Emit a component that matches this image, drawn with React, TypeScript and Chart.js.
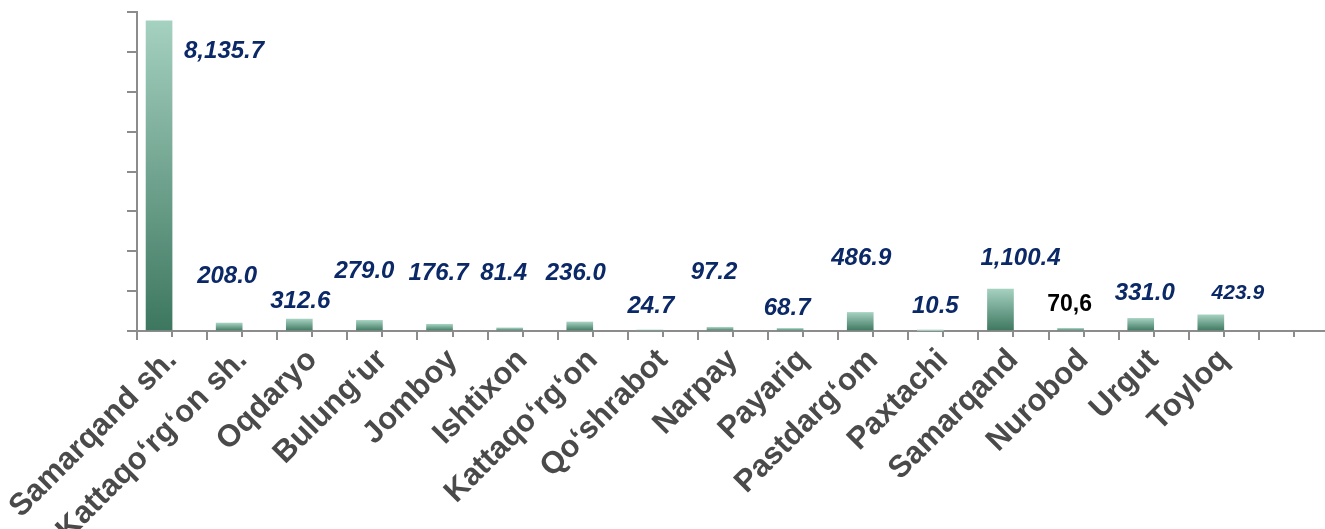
import React, { useEffect, useRef } from "react";
import { Chart, registerables } from "chart.js";

Chart.register(...registerables);

// ---- data ----
const categories: string[] = [
  "Samarqand sh.",
  "Kattaqo‘rg‘on sh.",
  "Oqdaryo",
  "Bulung‘ur",
  "Jomboy",
  "Ishtixon",
  "Kattaqo‘rg‘on",
  "Qo‘shrabot",
  "Narpay",
  "Payariq",
  "Pastdarg‘om",
  "Paxtachi",
  "Samarqand",
  "Nurobod",
  "Urgut",
  "Toyloq",
  "",
];

const values: number[] = [
  8135.7, 208.0, 312.6, 279.0, 176.7, 81.4, 236.0, 24.7, 97.2, 68.7, 486.9, 10.5,
  1100.4, 70.6, 331.0, 423.9,
];

const valueLabels: string[] = [
  "8,135.7", "208.0", "312.6", "279.0", "176.7", "81.4", "236.0", "24.7", "97.2",
  "68.7", "486.9", "10.5", "1,100.4", "70,6", "331.0", "423.9",
];

const yTickStep = 1000;
const yMax = 8370;

// ---- label placement / style (relative to each bar's top centre) ----
type Place = { dx: number; dy: number; size: number; italic: boolean; color: string };
const NAVY = "#0b2867";
const labelPlacement: Place[] = [
  { dx: 65, dy: 37, size: 24, italic: true, color: NAVY },
  { dx: -2, dy: -40, size: 24, italic: true, color: NAVY },
  { dx: 1, dy: -11, size: 24, italic: true, color: NAVY },
  { dx: -5, dy: -42, size: 24, italic: true, color: NAVY },
  { dx: -1, dy: -44, size: 24, italic: true, color: NAVY },
  { dx: -6, dy: -48, size: 24, italic: true, color: NAVY },
  { dx: -4, dy: -42, size: 24, italic: true, color: NAVY },
  { dx: 1, dy: -17, size: 24, italic: true, color: NAVY },
  { dx: -6, dy: -48, size: 24, italic: true, color: NAVY },
  { dx: -3, dy: -13, size: 24, italic: true, color: NAVY },
  { dx: 1, dy: -47, size: 24, italic: true, color: NAVY },
  { dx: 5, dy: -18, size: 24, italic: true, color: NAVY },
  { dx: 20, dy: -24, size: 24, italic: true, color: NAVY },
  { dx: -1, dy: -17, size: 23, italic: false, color: "#000000" },
  { dx: 4, dy: -18, size: 24, italic: true, color: NAVY },
  { dx: 27, dy: -16, size: 21, italic: true, color: NAVY },
];

const AXIS_GRAY = "#8c8c8c";
const FONT = '"Liberation Sans", Arial, sans-serif';

const valueLabelPlugin = {
  id: "valueLabels",
  afterDatasetsDraw(chart: any) {
    const meta = chart.getDatasetMeta(0);
    const ctx = chart.ctx;
    meta.data.forEach((el: any, i: number) => {
      const p = labelPlacement[i];
      if (!p) return;
      ctx.save();
      ctx.font = `${p.italic ? "italic " : ""}bold ${p.size}px ${FONT}`;
      ctx.fillStyle = p.color;
      ctx.textAlign = "center";
      ctx.textBaseline = "alphabetic";
      ctx.fillText(valueLabels[i], el.x + p.dx, el.y + p.dy);
      ctx.restore();
    });
  },
};

const centerTickPlugin = {
  id: "centerTicks",
  afterDraw(chart: any) {
    const xs = chart.scales.x;
    const ctx = chart.ctx;
    const y0 = chart.chartArea.bottom;
    ctx.save();
    ctx.strokeStyle = AXIS_GRAY;
    ctx.lineWidth = 2;
    for (let i = 0; i < categories.length; i++) {
      const x = Math.round(xs.getPixelForTick(i));
      ctx.beginPath();
      ctx.moveTo(x, y0);
      ctx.lineTo(x, y0 + 6);
      ctx.stroke();
    }
    ctx.restore();
  },
};

export default function App() {
  const ref = useRef<HTMLCanvasElement | null>(null);

  useEffect(() => {
    if (!ref.current) return;
    const chart = new Chart(ref.current, {
      type: "bar",
      data: {
        labels: categories,
        datasets: [
          {
            label: "values",
            data: values,
            barThickness: 26,
            backgroundColor: (c: any) => {
              const ch = c.chart;
              const ys = ch.scales && ch.scales.y;
              if (!ys || c.type !== "data" || c.raw == null) return "#6aa58c";
              const top = ys.getPixelForValue(c.raw);
              const base = ys.getPixelForValue(0);
              if (!isFinite(top) || !isFinite(base) || top === base) return "#6aa58c";
              const g = ch.ctx.createLinearGradient(0, top, 0, base);
              g.addColorStop(0, "#a5d1c0");
              g.addColorStop(1, "#3d7760");
              return g;
            },
            borderWidth: 0,
          },
          {
            label: "spacer",
            data: [],
            barThickness: 26,
          },
        ],
      },
      options: {
        responsive: false,
        maintainAspectRatio: false,
        animation: false,
        layout: { padding: { left: 127, top: 12, right: 16, bottom: 0 } },
        plugins: {
          legend: { display: false },
          tooltip: { enabled: false },
          title: { display: false },
        },
        scales: {
          x: {
            type: "category",
            offset: true,
            grid: {
              display: true,
              offset: true,
              drawOnChartArea: false,
              drawTicks: true,
              tickLength: 9,
              color: AXIS_GRAY,
              lineWidth: 2,
            },
            border: { display: true, color: AXIS_GRAY, width: 2 },
            ticks: {
              autoSkip: false,
              maxRotation: 45,
              minRotation: 45,
              padding: 2,
              color: "#4a4a4a",
              font: { family: FONT, size: 31, weight: "bold" },
            },
            afterFit: (s: any) => {
              s.height = 198;
            },
          },
          y: {
            type: "linear",
            min: 0,
            max: yMax,
            grid: {
              display: true,
              drawOnChartArea: false,
              drawTicks: true,
              tickLength: 10,
              color: AXIS_GRAY,
              lineWidth: 2,
            },
            border: { display: true, color: AXIS_GRAY, width: 2 },
            ticks: { display: false, stepSize: yTickStep, includeBounds: false },
            afterFit: (s: any) => {
              s.width = 10;
            },
          },
        },
      },
      plugins: [valueLabelPlugin, centerTickPlugin],
    } as any);
    return () => chart.destroy();
  }, []);

  return (
    <div
      style={{
        position: "fixed",
        left: 0,
        top: 0,
        width: 1325,
        height: 529,
        overflow: "hidden",
        background: "#ffffff",
      }}
    >
      <canvas ref={ref} width={1345} height={529} style={{ display: "block", width: 1345, height: 529 }} />
    </div>
  );
}
